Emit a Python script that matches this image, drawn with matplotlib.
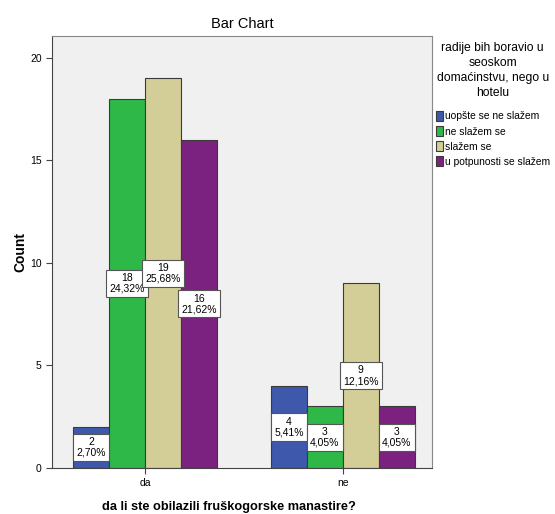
import numpy as np
import matplotlib.pyplot as plt

plt.rcParams["font.family"] = ["Liberation Sans", "DejaVu Sans"]

groups = ["da", "ne"]
series = ["uopšte se ne slažem", "ne slažem se", "slažem se", "u potpunosti se slažem"]
counts = [[2, 4], [18, 3], [19, 9], [16, 3]]
percents = [["2,70%", "5,41%"], ["24,32%", "4,05%"], ["25,68%", "12,16%"], ["21,62%", "4,05%"]]
colors = ["#3e58ac", "#2eb848", "#d3ce97", "#7b2280"]

fig = plt.figure(figsize=(5.55, 5.14), dpi=100)
ax = fig.add_axes([0.094, 0.0895, 0.684, 0.8405])
ax.set_facecolor("#f0f0f0")

x = np.arange(len(groups))
w = 0.182
for i, name in enumerate(series):
    pos = x + (i - 1.5) * w
    ax.bar(pos, counts[i], width=w, color=colors[i], edgecolor="#3a3a3a",
           linewidth=0.8, label=name)
    for p, c, pc in zip(pos, counts[i], percents[i]):
        ax.text(p, c / 2, f"{c}\n{pc}", ha="center", va="center", fontsize=7.5,
                linespacing=1.1,
                bbox=dict(boxstyle="square,pad=0.3", fc="white", ec="#555555", lw=0.8))

ax.set_xlim(-0.47, 1.45)
ax.set_ylim(0, 21.07)
ax.set_xticks(x)
ax.set_xticklabels(groups, fontsize=7.5)
ax.set_yticks([0, 5, 10, 15, 20])
ax.tick_params(axis="both", labelsize=7.5, length=4, color="#444444")
for s in ax.spines.values():
    s.set_color("#888888")
ax.spines["left"].set_color("#444444")
ax.spines["bottom"].set_color("#444444")

ax.set_title("Bar Chart", fontsize=10.5, pad=6)
ax.set_ylabel("Count", fontsize=10, fontweight="bold")
ax.yaxis.set_label_coords(-0.066, 0.5)
ax.set_xlabel("da li ste obilazili fruškogorske manastire?", fontsize=9.2,
              fontweight="bold")
ax.xaxis.set_label_coords(0.466, -0.077)

leg = ax.legend(title="radije bih boravio u\nseoskom\ndomaćinstvu, nego u\nhotelu",
                loc="upper left", bbox_to_anchor=(1.01, 0.985), frameon=False,
                fontsize=7.4, title_fontsize=8.7, handlelength=0.75, handleheight=1.1,
                handletextpad=0.15, labelspacing=0.45, borderaxespad=0, borderpad=0)
leg.get_title().set_multialignment("center")
leg.get_title().set_linespacing(1.3)
leg._legend_box.sep = 9
for h in leg.legend_handles:
    h.set_edgecolor("#3a3a3a")

fig.savefig("out.png", dpi=100)
